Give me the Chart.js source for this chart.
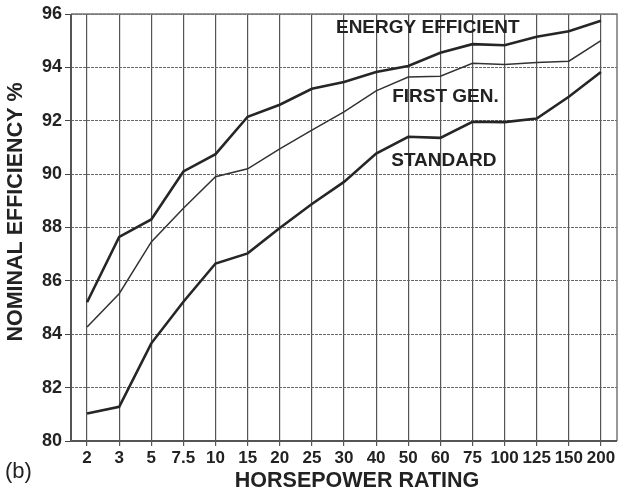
<!DOCTYPE html>
<html>
<head>
<meta charset="utf-8">
<script src="https://cdn.jsdelivr.net/npm/chart.js@4/dist/chart.umd.min.js"></script>
<style>
  body { margin: 0; background: #fff; }
  #wrap { width: 619px; height: 494px; }
</style>
</head>
<body>
<div id="wrap"><canvas id="chart" width="619" height="494"></canvas></div>
<script>
// motor horsepower ratings (category axis)
const hp = ['2', '3', '5', '7.5', '10', '15', '20', '25', '30', '40', '50', '60', '75', '100', '125', '150', '200'];

// nominal efficiency, %
const energyEfficient = [85.2, 87.65, 88.3, 90.1, 90.75, 92.15, 92.6, 93.2, 93.45, 93.83, 94.05, 94.55, 94.87, 94.83, 95.15, 95.35, 95.75];
const firstGen = [84.27, 85.52, 87.46, 88.72, 89.9, 90.2, 90.95, 91.65, 92.33, 93.12, 93.64, 93.67, 94.15, 94.11, 94.18, 94.23, 95.0];
const standard = [81.03, 81.28, 83.66, 85.22, 86.65, 87.03, 87.98, 88.88, 89.71, 90.77, 91.4, 91.36, 91.96, 91.95, 92.08, 92.9, 93.83];

// curve names written inside the plot: [text, x (category index), y (value)]
const curveLabels = [
  ['ENERGY EFFICIENT', 7.75, 95.47],
  ['FIRST GEN.', 9.5, 92.9],
  ['STANDARD', 9.47, 90.49]
];

const FONT = '"Liberation Sans", Arial, sans-serif';

// frame round the plot, axis titles, curve names
const extras = {
  id: 'extras',
  beforeDatasetsDraw: function(chart) {
    const ctx = chart.ctx;
    const a = chart.chartArea;
    ctx.save();
    ctx.strokeStyle = '#777';
    ctx.lineWidth = 1.5;
    ctx.beginPath();
    ctx.moveTo(a.left, a.top);
    ctx.lineTo(a.right, a.top);
    ctx.lineTo(a.right, a.bottom);
    ctx.stroke();
    ctx.strokeStyle = '#555';
    ctx.lineWidth = 2;
    ctx.beginPath();
    ctx.moveTo(a.left, a.top);
    ctx.lineTo(a.left, a.bottom);
    ctx.lineTo(a.right, a.bottom);
    ctx.stroke();
    ctx.restore();
  },
  afterDraw: function(chart) {
    const ctx = chart.ctx;
    const x = chart.scales.x;
    const y = chart.scales.y;
    ctx.save();
    ctx.fillStyle = '#222';
    ctx.textBaseline = 'middle';

    ctx.font = 'bold 19px ' + FONT;
    ctx.textAlign = 'left';
    curveLabels.forEach(function(l) {
      ctx.fillText(l[0], x.getPixelForValue(l[1]), y.getPixelForValue(l[2]));
    });

    ctx.font = 'bold 21.5px ' + FONT;
    ctx.textAlign = 'center';
    ctx.fillText('HORSEPOWER RATING', 357, 481);

    ctx.save();
    ctx.translate(16, 212);
    ctx.rotate(-Math.PI / 2);
    ctx.fillText('NOMINAL EFFICIENCY %', 0, 0);
    ctx.restore();

    ctx.font = '22px ' + FONT;
    ctx.textAlign = 'left';
    ctx.fillText('(b)', 5, 472);
    ctx.restore();
  }
};

new Chart(document.getElementById('chart'), {
  type: 'line',
  data: {
    labels: hp,
    datasets: [
      { label: 'Energy efficient', data: energyEfficient, borderColor: '#262626', borderWidth: 2.6 },
      { label: 'First gen.', data: firstGen, borderColor: '#333', borderWidth: 1.5 },
      { label: 'Standard', data: standard, borderColor: '#262626', borderWidth: 2.6 }
    ]
  },
  options: {
    responsive: false,
    animation: false,
    layout: { padding: { top: 14, right: 2, left: 0, bottom: 0 } },
    elements: {
      point: { radius: 0 },
      line: { tension: 0, fill: false }
    },
    plugins: {
      legend: { display: false },
      tooltip: { enabled: false }
    },
    scales: {
      x: {
        offset: true,
        grid: { color: '#555', lineWidth: 1.2, tickLength: 5, offset: false },
        border: { display: false },
        ticks: {
          autoSkip: false, maxRotation: 0, padding: 2, color: '#222',
          font: { family: FONT, size: 17, weight: 'bold' }
        },
        afterFit: function(s) { s.height = 53; }
      },
      y: {
        min: 80,
        max: 96,
        ticks: {
          stepSize: 2, padding: 3, color: '#222',
          font: { family: FONT, size: 18, weight: 'bold' }
        },
        grid: { color: '#666', lineWidth: 1, tickLength: 6, tickColor: '#444' },
        border: { display: false, dash: [3, 1] },
        afterFit: function(s) { s.width = 71; }
      }
    }
  },
  plugins: [extras]
});
</script>
</body>
</html>
